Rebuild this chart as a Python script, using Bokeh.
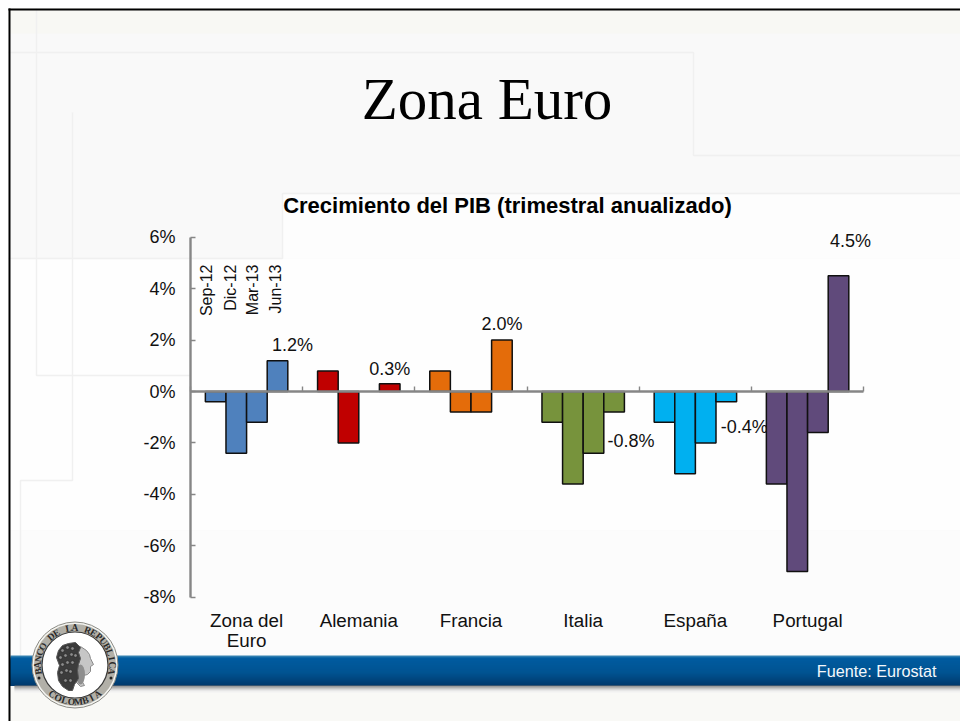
import math
from bokeh.core.properties import value
from bokeh.embed import file_html
from bokeh.models import FixedTicker, LinearAxis, PrintfTickFormatter, Range1d
from bokeh.plotting import figure
from bokeh.resources import INLINE

# ---- data ----
countries = ["Zona del\nEuro", "Alemania", "Francia", "Italia", "España", "Portugal"]
quarters = ["Sep-12", "Dic-12", "Mar-13", "Jun-13"]
zona_euro = [-0.4, -2.4, -1.2, 1.2]
alemania = [0.8, -2.0, 0.0, 0.3]
francia = [0.8, -0.8, -0.8, 2.0]
italia = [-1.2, -3.6, -2.4, -0.8]
espana = [-1.2, -3.2, -2.0, -0.4]
portugal = [-3.6, -7.0, -1.6, 4.5]
series = [zona_euro, alemania, francia, italia, espana, portugal]
y_ticks = [-8, -6, -4, -2, 0, 2, 4, 6]
title = "Zona Euro"
subtitle = "Crecimiento del PIB (trimestral anualizado)"
source_note = "Fuente: Eurostat"

# ---- styling ----
colors = ["#4F81BD", "#C00000", "#E46C0A", "#77933C", "#00B0F0", "#604A7B"]
label_offsets = [(15, -16), (0, -15), (0, -16), (17, 29), (18, 25), (12, -35)]
SANS = "Liberation Sans"
SERIF = "Liberation Serif"

W, H = 960, 721
AX_X0, GROUP_W = 190.0, 112.2      # px of x=0, px per group
ZERO_Y, UNIT_Y = 391.0, 25.7       # px of y=0, px per 1 %

x_range = Range1d(-AX_X0 / GROUP_W, (W - AX_X0) / GROUP_W)
y_range = Range1d((ZERO_Y - H) / UNIT_Y, ZERO_Y / UNIT_Y)

p = figure(width=W, height=H, x_range=x_range, y_range=y_range,
           toolbar_location=None, output_backend="svg", min_border=0,
           x_axis_type=None, y_axis_type=None,
           background_fill_color="#FFFFFF", border_fill_color="#FFFFFF",
           outline_line_color=None)
p.grid.visible = False
p.extra_x_ranges["px"] = Range1d(0, W)
p.extra_y_ranges["px"] = Range1d(H, 0)
PXR = dict(x_range_name="px", y_range_name="px")


def rect(x0, y0, x1, y1, color):
    p.quad(left=x0, right=x1, top=y0, bottom=y1, fill_color=color,
           line_color=None, **PXR)


def seg(pts, color="#F0F0F0", w=1.5):
    xs, ys = zip(*pts)
    p.line(list(xs), list(ys), line_color=color, line_width=w, **PXR)


# ---- slide background ----
rect(8, 8, 960, 721, "#F9F9F9")
rect(8, 8, 960, 33, "#F8F8F4")
rect(282, 193, 960, 258, "#FDFDFD")
rect(8, 258, 960, 530, "#FEFEFE")
rect(8, 530, 960, 655, "#FCFCFC")
rect(8, 685, 960, 721, "#F9F9F6")

seg([(8, 52), (693, 52), (693, 155), (960, 155)])
seg([(36, 8), (36, 375), (190, 375)])
seg([(72, 112), (72, 480), (20, 480), (20, 690)])
seg([(8, 258), (282, 258), (282, 193), (960, 193)])

# ---- series bars ----
bar_w, first = 0.1837, 0.1325
for g, vals in enumerate(series):
    xc = [g + first + (i + 0.5) * bar_w for i in range(len(vals))]
    keep = [i for i, v in enumerate(vals) if v != 0]
    p.vbar(x=[xc[i] for i in keep], top=[vals[i] for i in keep], bottom=0,
           width=bar_w, fill_color=colors[g], line_color="#101010", line_width=1.5)
    v = vals[-1]
    p.text(x=[xc[-1]], y=[v], text=[f"{v:.1f}%"],
           x_offset=label_offsets[g][0], y_offset=label_offsets[g][1],
           text_font=value(SANS), text_font_size="18px", text_color="#111111",
           text_align="center", text_baseline="middle")

# ---- axes ----
AX_COLOR = "#868686"
yax = LinearAxis(fixed_location=0, ticker=FixedTicker(ticks=y_ticks), bounds=(-8, 6),
                 formatter=PrintfTickFormatter(format="%d%%"))
yax.axis_line_color = AX_COLOR
yax.axis_line_width = 2.4
yax.major_tick_line_color = AX_COLOR
yax.major_tick_line_width = 1.4
yax.major_tick_in, yax.major_tick_out = 5, 0
yax.minor_tick_line_color = None
yax.major_label_standoff = 15
yax.major_label_text_font = SANS
yax.major_label_text_font_size = "18px"
yax.major_label_text_color = "#111111"
p.add_layout(yax, "left")

xax = LinearAxis(fixed_location=0, ticker=FixedTicker(ticks=list(range(len(countries) + 1))),
                 bounds=(0, len(countries)))
xax.axis_line_color = AX_COLOR
xax.axis_line_width = 2.4
xax.major_tick_line_color = AX_COLOR
xax.major_tick_line_width = 1.4
xax.major_tick_in, xax.major_tick_out = 5, 0
xax.minor_tick_line_color = None
xax.major_label_text_font_size = "0px"
xax.major_label_text_color = None
p.add_layout(xax, "below")

catax = LinearAxis(fixed_location=-8,
                   ticker=FixedTicker(ticks=[i + 0.5 for i in range(len(countries))]),
                   major_label_overrides={i + 0.5: c for i, c in enumerate(countries)})
catax.axis_line_color = None
catax.major_tick_line_color = None
catax.minor_tick_line_color = None
catax.major_label_standoff = 7
catax.major_label_text_font = SANS
catax.major_label_text_font_size = "18.8px"
catax.major_label_text_color = "#111111"
catax.major_label_text_line_height = 0.96
p.add_layout(catax, "below")

# ---- quarter labels (rotated, above first group) ----
p.text(x=[206, 230, 252, 275], y=[264] * 4, text=quarters, angle=math.pi / 2,
       text_font=value(SANS), text_font_size="16px", text_color="#111111",
       text_align="right", text_baseline="middle", **PXR)

# ---- titles ----
p.text(x=[486.5], y=[98], text=[title], text_font=value(SERIF), text_font_size="59px",
       text_color="#000000", text_align="center", text_baseline="middle", **PXR)
p.text(x=[507], y=[204.5], text=[subtitle], text_font=value(SANS), text_font_size="22px",
       text_font_style="bold", text_color="#000000", text_align="center",
       text_baseline="middle", **PXR)

# ---- footer banner with vertical gradient ----
band_top, band_bottom = 655, 685
stops = [(0, (60, 135, 180)), (0.07, (0, 92, 160)), (0.55, (0, 84, 146)), (1, (0, 58, 108))]
for y in range(band_top, band_bottom):
    t = (y - band_top) / (band_bottom - band_top)
    for (t0, c0), (t1, c1) in zip(stops, stops[1:]):
        if t0 <= t <= t1:
            f = (t - t0) / (t1 - t0)
            c = tuple(int(a + (b - a) * f) for a, b in zip(c0, c1))
            rect(10, y, 960, band_bottom, "#%02X%02X%02X" % c)
            break
for y, col in zip(range(685, 692), ["#6E6E6E", "#858585", "#A0A0A0", "#BDBDBD", "#D6D6D6", "#E8E8E8", "#F2F2F2"]):
    rect(14, y, 960, y + 1, col)
p.text(x=[936], y=[670], text=[source_note], text_font=value(SANS), text_font_size="16.2px",
       text_color="#F4F8FC", text_align="right", text_baseline="middle", **PXR)

# ---- seal ----
CX, CY = 74.5, 664.5
p.ellipse(x=[CX], y=[CY], width=86, height=86, fill_color="#F4F4F0", line_color="#8C8C86",
          line_width=1, **PXR)
p.ellipse(x=[CX], y=[CY], width=82, height=82, fill_color="#B2B0A8", line_color=None, **PXR)
p.ellipse(x=[CX], y=[CY], width=66, height=66, fill_color="#FFFFFF", line_color="#3A3A3A",
          line_width=1.2, **PXR)


def ring_text(txt, a0, a1, radius, up=True):
    n = len(txt)
    xs, ys, ang = [], [], []
    for i in range(n):
        a = math.radians(a0 + (a1 - a0) * i / (n - 1))
        xs.append(CX + radius * math.cos(a))
        ys.append(CY - radius * math.sin(a))
        ang.append(a - math.pi / 2 if up else a + math.pi / 2)
    p.text(x=xs, y=ys, text=list(txt), angle=ang, text_font=value(SERIF), text_font_size="9.5px",
           text_font_style="bold", text_color="#2A2A2A", text_align="center",
           text_baseline="middle", **PXR)


ring_text("BANCO DE LA REPUBLICA", 190, -10, 37, up=True)
ring_text("COLOMBIA", 232, 308, 37, up=False)
p.scatter(x=[CX - 36, CX + 36], y=[CY + 13, CY + 13], size=3, marker="circle",
          fill_color="#222222", line_color=None, **PXR)

# head: face and neck, then hair with curls
p.patch(x=[72, 80, 86, 89, 90, 93, 90, 90, 87, 83, 81, 84, 80, 74],
        y=[645, 646, 650, 654, 658, 664, 666, 671, 674, 675, 680, 685, 686, 680],
        fill_color="#C6C6C6", line_color="#8A8A8A", **PXR)
p.ellipse(x=[80], y=[674], width=9, height=20, fill_color="#8E8E8E", line_color=None, **PXR)
p.patch(x=[68, 75, 80, 78, 80, 78, 77, 78, 74, 72, 68, 62, 58, 57, 59, 56, 58, 62],
        y=[643, 642, 647, 652, 658, 664, 670, 678, 684, 690, 690, 686, 680, 672, 665, 657, 650, 645],
        fill_color="#3C3C3C", line_color="#555555", **PXR)
curl_x = [62, 67, 72, 60, 65, 71, 75, 62, 67, 72, 61, 66, 70, 65, 70]
curl_y = [650, 647, 648, 657, 655, 654, 655, 664, 662, 662, 672, 670, 671, 680, 680]
p.scatter(x=curl_x, y=curl_y, size=3.5, marker="circle", fill_color="#8C8C8C",
          line_color="#222222", line_width=0.5, **PXR)

# ---- slide border ----
rect(8, 8, 960, 10, "#000000")
rect(8, 8, 10, 721, "#000000")

open("out.html", "w").write(file_html(p, INLINE))
